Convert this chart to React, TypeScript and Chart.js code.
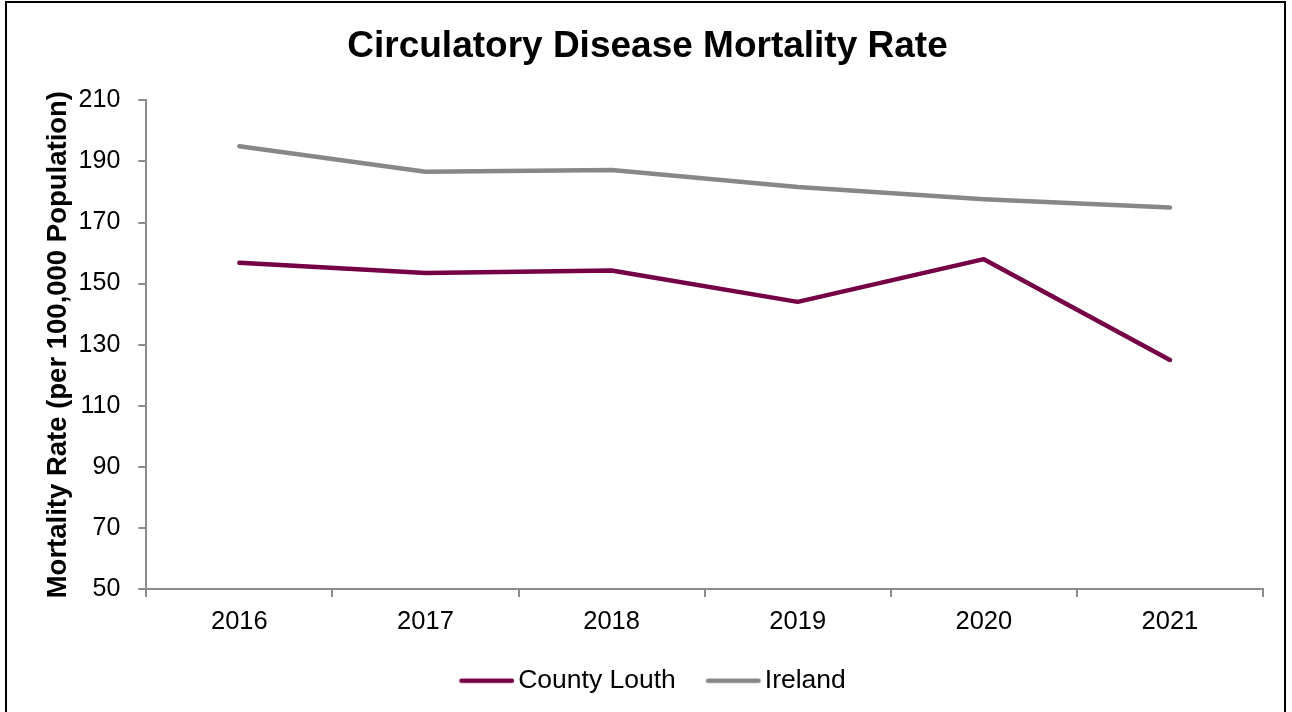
import React, { useEffect, useRef } from "react";
import { Chart, registerables } from "chart.js";

Chart.register(...registerables);

const years = ["2016", "2017", "2018", "2019", "2020", "2021"];
const countyLouth = [156.8, 153.5, 154.3, 144.0, 158.0, 125.0];
const ireland = [195.0, 186.6, 187.2, 181.6, 177.6, 174.9];
const titleText = "Circulatory Disease Mortality Rate";
const yTitle = "Mortality Rate (per 100,000 Population)";

const FONT = "'Liberation Sans', Arial, sans-serif";
const LOUTH_COLOR = "#750046";
const IRELAND_COLOR = "#878787";
const AXIS_COLOR = "#8c8c8c";

function legendLine(color: string): HTMLCanvasElement {
  const c = document.createElement("canvas");
  c.width = 80;
  c.height = 8;
  const g = c.getContext("2d")!;
  g.strokeStyle = color;
  g.lineWidth = 4.5;
  g.lineCap = "round";
  g.beginPath();
  g.moveTo(24.4, 4);
  g.lineTo(74.8, 4);
  g.stroke();
  return c;
}

export default function App() {
  const ref = useRef<HTMLCanvasElement | null>(null);

  useEffect(() => {
    document.body.style.margin = "0";
    const ctx = ref.current!.getContext("2d")!;
    const chart = new Chart(ctx, {
      type: "line",
      data: {
        labels: years,
        datasets: [
          {
            label: "County Louth",
            data: countyLouth,
            borderColor: LOUTH_COLOR,
            backgroundColor: LOUTH_COLOR,
            borderWidth: 4.5,
            pointRadius: 0,
            tension: 0,
            borderCapStyle: "round",
            borderJoinStyle: "round",
          },
          {
            label: "Ireland",
            data: ireland,
            borderColor: IRELAND_COLOR,
            backgroundColor: IRELAND_COLOR,
            borderWidth: 4.5,
            pointRadius: 0,
            tension: 0,
            borderCapStyle: "round",
            borderJoinStyle: "round",
          },
        ],
      },
      options: {
        animation: false,
        responsive: false,
        maintainAspectRatio: false,
        layout: { padding: { left: 32, right: 29, top: 12, bottom: 8 } },
        plugins: {
          title: {
            display: true,
            text: titleText,
            color: "#000",
            font: { family: FONT, size: 37, weight: "bold" },
            padding: { top: 13, bottom: 31 },
          },
          legend: {
            position: "bottom",
            labels: {
              color: "#000",
              font: { family: FONT, size: 26.5 },
              usePointStyle: true,
              pointStyleWidth: 55.75,
              boxHeight: 8,
              padding: 20,
              generateLabels: (c: any) =>
                c.data.datasets.map((ds: any, i: number) => ({
                  text: ds.label,
                  fillStyle: ds.borderColor,
                  strokeStyle: ds.borderColor,
                  lineWidth: 0,
                  pointStyle: legendLine(ds.borderColor),
                  hidden: false,
                  datasetIndex: i,
                  fontColor: "#000",
                })),
            },
          },
          tooltip: { enabled: false },
        },
        scales: {
          x: {
            offset: true,
            grid: {
              offset: true,
              drawOnChartArea: false,
              drawTicks: true,
              tickLength: 8,
              color: AXIS_COLOR,
              lineWidth: 2,
            },
            border: { display: true, color: AXIS_COLOR, width: 2 },
            ticks: {
              color: "#000",
              font: { family: FONT, size: 25.5 },
              padding: 10,
              maxRotation: 0,
            },
          },
          y: {
            min: 50,
            max: 210,
            ticks: {
              stepSize: 20,
              color: "#000",
              font: { family: FONT, size: 25 },
              padding: 18,
            },
            grid: {
              drawOnChartArea: false,
              drawTicks: true,
              tickLength: 8,
              color: AXIS_COLOR,
              lineWidth: 2,
            },
            border: { display: true, color: AXIS_COLOR, width: 2 },
            title: {
              display: true,
              text: yTitle,
              color: "#000",
              font: { family: FONT, size: 27.5, weight: "bold" },
              padding: { top: 10, bottom: -14.4 },
            },
          },
        },
      },
    });
    return () => chart.destroy();
  }, []);

  return (
    <div style={{ position: "relative", width: 1292, height: 712, overflow: "hidden", background: "#fff" }}>
      <canvas ref={ref} width={1292} height={712} style={{ position: "absolute", left: 0, top: 0, width: 1292, height: 712 }} />
      <div
        style={{
          position: "absolute",
          left: 5,
          top: 1,
          width: 1281,
          height: 730,
          border: "2px solid #000",
          boxSizing: "border-box",
          pointerEvents: "none",
        }}
      />
    </div>
  );
}
